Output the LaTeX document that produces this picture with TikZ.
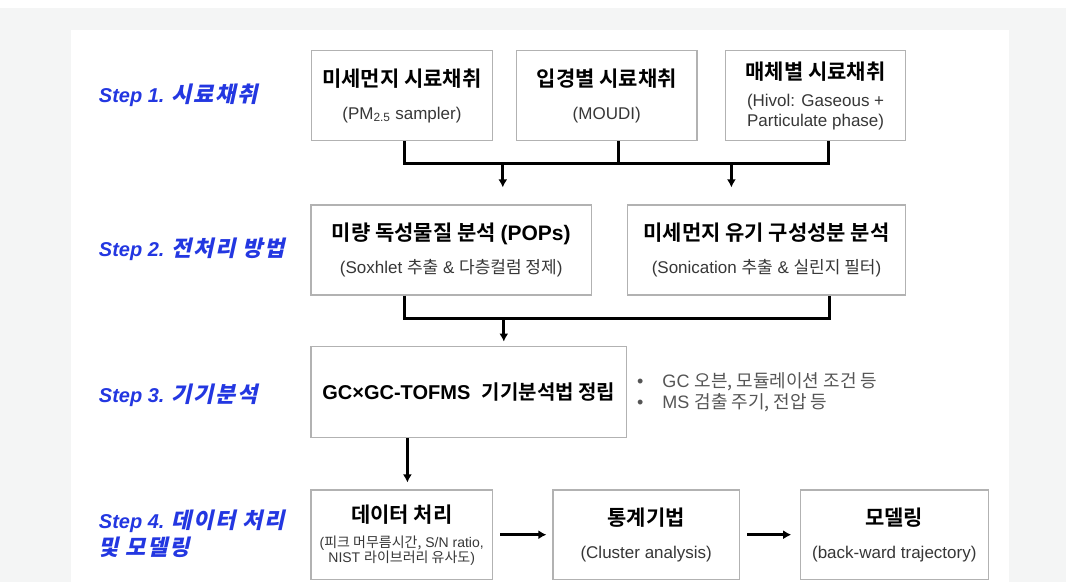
\documentclass[tikz,border=0pt]{standalone}
\usepackage{fontspec}
\setmainfont{Liberation Sans}
\newfontfamily\kr{Noto Sans CJK KR}[BoldFont={Noto Sans CJK KR Bold}]
\newfontfamily\krit{Noto Sans CJK KR Bold}[FakeSlant=0.22,LetterSpace=8]
\usetikzlibrary{positioning,calc,arrows.meta}
\definecolor{stepblue}{RGB}{35,55,225}
\definecolor{boxgray}{RGB}{178,178,178}
\definecolor{subgray}{RGB}{55,55,55}
\definecolor{notegray}{RGB}{85,85,85}
\definecolor{bggray}{RGB}{244,245,245}
\newcommand{\ttl}{\fontsize{21}{22}\selectfont\kr\bfseries}
\newcommand{\sub}{\fontsize{17}{20}\selectfont\color{subgray}}
\newcommand{\stepkr}{\fontsize{22}{27}\selectfont\krit}
\tikzset{stepbox/.style={draw=boxgray,line width=1.2pt,fill=white,align=center,inner sep=0pt,font=\fontsize{17}{20}\selectfont}}
\tikzset{steplabel/.style={anchor=west,text=stepblue,align=left,font=\fontsize{20}{27}\selectfont\bfseries\itshape}}
\tikzset{bus/.style={line width=3pt}}
\tikzset{arr/.style={line width=3pt,-{Latex[length=8pt,width=9pt]}}}

\begin{document}
\begin{tikzpicture}[x=1pt,y=-1pt]
  % page and panel
  \useasboundingbox (0,0) rectangle (1066,582);
  \fill[bggray] (0,8) rectangle (1066,582);
  \fill[white] (70.6,30) rectangle (1009,582);

  % step labels
  \node[steplabel] (lab1) at (95.4,95) {Step 1. {\stepkr 시료채취}};
  \node[steplabel] (lab2) at (95.4,249) {Step 2. {\stepkr 전처리 방법}};
  \node[steplabel] (lab3) at (95.4,395) {Step 3. {\stepkr 기기분석}};
  \node[steplabel] (lab4) at (95.4,533.5) {Step 4. {\stepkr 데이터 처리}\\{\stepkr 및 모델링}};

  % step 1
  \node[stepbox,minimum width=181pt,minimum height=90pt] (s1a) at (401.9,95.7)
    {{\ttl 미세먼지 시료채취}\\[13pt]{\sub (PM\textsubscript{2.5} sampler)}};
  \node[stepbox,minimum width=180.4pt,minimum height=90pt] (s1b) at (606.7,95.7)
    {{\ttl 입경별 시료채취}\\[13pt]{\sub (MOUDI)}};
  \node[stepbox,minimum width=180.4pt,minimum height=90pt] (s1c) at (815.6,95.7)
    {{\ttl 매체별 시료채취}\\[7pt]{\sub (Hivol: Gaseous +}\\{\sub Particulate phase)}};

  % step 2
  \node[stepbox,minimum width=280.4pt,minimum height=90pt] (s2a) at (451.2,250)
    {{\ttl 미량 독성물질 분석} {\fontsize{21}{22}\selectfont\bfseries (POPs)}\\[13pt]{\sub (Soxhlet {\kr 추출} \& {\kr 다층컬럼 정제})}};
  \node[stepbox,minimum width=278.6pt,minimum height=90pt] (s2b) at (766.5,250)
    {{\ttl 미세먼지 유기 구성성분 분석}\\[13pt]{\sub (Sonication {\kr 추출} \& {\kr 실린지 필터})}};

  % step 3
  \node[stepbox,minimum width=315.5pt,minimum height=91pt] (s3a) at (468.8,391.7)
    {{\fontsize{20}{22}\selectfont\bfseries GC×GC-TOFMS\hspace{6pt} {\kr 기기분석법 정립}}};
  \node[anchor=west,align=left,text=notegray,font=\fontsize{18}{21}\selectfont,inner sep=0pt] (note) at (637,392.5)
    {\textbullet\hspace{19pt}GC {\kr 오븐, 모듈레이션 조건 등}\\
     \textbullet\hspace{19pt}MS {\kr 검출 주기, 전압 등}};

  % step 4
  \node[stepbox,minimum width=181.4pt,minimum height=89.3pt,font=\fontsize{14}{15}\selectfont] (s4a) at (401.7,534.7)
    {{\ttl 데이터 처리}\\[10pt]{\color{subgray}({\kr 피크 머무름시간,} S/N ratio,}\\{\color{subgray}NIST {\kr 라이브러리 유사도})}};
  \node[stepbox,minimum width=186.4pt,minimum height=89.3pt] (s4b) at (646.2,534.7)
    {{\ttl 통계기법}\\[13pt]{\sub (Cluster analysis)}};
  \node[stepbox,minimum width=188pt,minimum height=89.3pt] (s4c) at (894.3,534.7)
    {{\ttl 모델링}\\[13pt]{\sub (back-ward trajectory)}};

  % connectors
  \coordinate (j1a) at (404.6,163.5);
  \coordinate (j1b) at (618.5,163.5);
  \coordinate (j1c) at (828.8,163.5);
  \coordinate (d1a) at (502.8,163.5);
  \coordinate (d1b) at (731.4,163.5);
  \draw[bus] (j1a |- s1a.south) -- (j1a) -- (j1c) -- (j1c |- s1c.south);
  \draw[bus] (j1b |- s1b.south) -- (j1b);
  \draw[arr,shorten >=17pt] (d1a) -- (d1a |- s2a.north);
  \draw[arr,shorten >=17pt] (d1b) -- (d1b |- s2b.north);

  \coordinate (j2a) at (404.6,318);
  \coordinate (j2b) at (829.9,318);
  \coordinate (d2a) at (503.8,318);
  \draw[bus] (j2a |- s2a.south) -- (j2a) -- (j2b) -- (j2b |- s2b.south);
  \draw[arr,shorten >=4pt] (d2a) -- (d2a |- s3a.north);

  \coordinate (d3a) at (407.4,437);
  \draw[arr,shorten >=7pt] (d3a |- s3a.south) -- (d3a |- s4a.north);
  \draw[arr,shorten <=7pt,shorten >=6pt] (s4a) -- (s4b);
  \draw[arr,shorten <=7pt,shorten >=8.5pt] (s4b) -- (s4c);
\end{tikzpicture}
\end{document}
